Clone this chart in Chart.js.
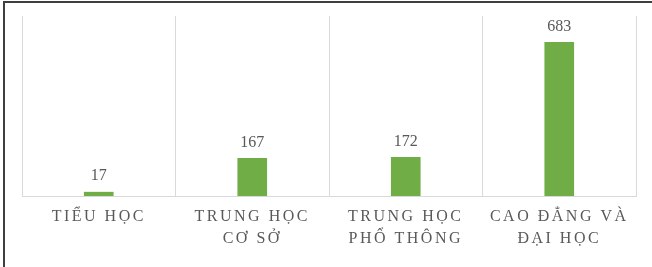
<!DOCTYPE html>
<html>
<head>
<meta charset="utf-8">
<script src="https://cdn.jsdelivr.net/npm/chart.js@4"></script>
<style>
    html, body { margin: 0; padding: 0; background: #fff; }
    #wrap { position: relative; width: 652px; height: 267px; }
    #frame {
        position: absolute; left: 3px; top: 1px; right: 0; bottom: 0;
        border-top: 2px solid #3f3f3f;
        border-left: 2px solid #3f3f3f;
        pointer-events: none;
    }
</style>
</head>
<body>
<div id="wrap">
    <canvas id="chart" width="652" height="267"></canvas>
    <div id="frame"></div>
</div>
<script>
// Chart data
const categories = [
    ['TIỂU HỌC'],
    ['TRUNG HỌC', 'CƠ SỞ'],
    ['TRUNG HỌC', 'PHỔ THÔNG'],
    ['CAO ĐẲNG VÀ', 'ĐẠI HỌC']
];
const values = [17, 167, 172, 683];
const yMax = 800;

const textColor = '#595959';
const serif = "'Liberation Serif', 'Times New Roman', serif";

// Draws the value above each bar
const valueLabels = {
    id: 'valueLabels',
    afterDatasetsDraw(chart) {
        const ctx = chart.ctx;
        const meta = chart.getDatasetMeta(0);
        ctx.save();
        ctx.letterSpacing = '0px';
        ctx.font = '16px ' + serif;
        ctx.fillStyle = textColor;
        ctx.textAlign = 'center';
        ctx.textBaseline = 'middle';
        meta.data.forEach((bar, i) => {
            ctx.fillText(String(values[i]), bar.x, bar.y - 16);
        });
        ctx.restore();
    }
};

// Wide letter spacing for the category labels
const spacedTicks = {
    id: 'spacedTicks',
    beforeDraw(chart) {
        chart.ctx.letterSpacing = '2.5px';
    }
};

new Chart(document.getElementById('chart').getContext('2d'), {
    type: 'bar',
    data: {
        labels: categories,
        datasets: [{
            data: values,
            backgroundColor: '#70ad47',
            barThickness: 29
        }]
    },
    options: {
        responsive: false,
        animation: false,
        layout: { padding: { left: 22, right: 16, top: 16, bottom: 0 } },
        plugins: {
            legend: { display: false },
            tooltip: { enabled: false }
        },
        scales: {
            x: {
                offset: true,
                grid: {
                    offset: true,
                    color: '#d9d9d9',
                    lineWidth: 1,
                    drawTicks: false
                },
                border: { display: true, color: '#d9d9d9', width: 1 },
                ticks: {
                    color: textColor,
                    padding: 10,
                    maxRotation: 0,
                    autoSkip: false,
                    font: { family: serif, size: 16, lineHeight: 1.375 }
                },
                afterFit(scale) { scale.height = 71; }
            },
            y: {
                display: false,
                min: 0,
                max: yMax
            }
        }
    },
    plugins: [spacedTicks, valueLabels]
});
</script>
</body>
</html>
